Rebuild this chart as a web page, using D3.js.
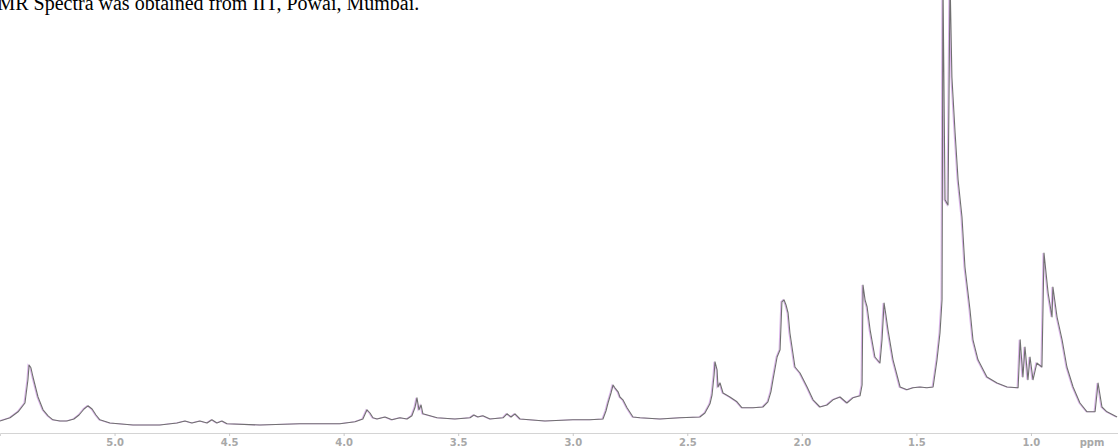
<!DOCTYPE html>
<html>
<head>
<meta charset="utf-8">
<script src="https://cdn.jsdelivr.net/npm/d3@7"></script>
<style>
  html, body { margin: 0; padding: 0; background: #fff; overflow: hidden; }
  svg { display: block; }
</style>
</head>
<body>
<div id="chart"></div>
<script>
// chemical shift (ppm) and relative intensity
const ppm = [
  5.500, 5.456, 5.421, 5.391, 5.378, 5.373, 5.365, 5.356, 5.334, 5.312,
  5.290, 5.269, 5.238, 5.208, 5.177, 5.155, 5.133, 5.116, 5.098, 5.081,
  5.064, 5.020, 4.919, 4.802, 4.727, 4.692, 4.662, 4.627, 4.596, 4.575,
  4.553, 4.531, 4.509, 4.365, 4.191, 4.016, 3.950, 3.916, 3.898, 3.885,
  3.872, 3.854, 3.819, 3.789, 3.754, 3.723, 3.702, 3.689, 3.680, 3.671,
  3.662, 3.654, 3.623, 3.592, 3.514, 3.448, 3.431, 3.414, 3.392, 3.361,
  3.304, 3.287, 3.269, 3.252, 3.230, 3.121, 2.999, 2.925, 2.868, 2.855,
  2.846, 2.833, 2.824, 2.816, 2.802, 2.794, 2.781, 2.763, 2.737, 2.706,
  2.619, 2.532, 2.445, 2.423, 2.401, 2.392, 2.383, 2.379, 2.370, 2.366,
  2.357, 2.344, 2.314, 2.283, 2.261, 2.213, 2.170, 2.148, 2.135, 2.126,
  2.108, 2.095, 2.087, 2.078, 2.069, 2.060, 2.052, 2.030, 2.008, 1.977,
  1.951, 1.921, 1.890, 1.864, 1.833, 1.803, 1.777, 1.746, 1.737, 1.733,
  1.724, 1.715, 1.702, 1.681, 1.659, 1.650, 1.641, 1.633, 1.624, 1.602,
  1.571, 1.541, 1.515, 1.484, 1.454, 1.427, 1.410, 1.397, 1.388, 1.384,
  1.375, 1.362, 1.353, 1.345, 1.340, 1.331, 1.318, 1.301, 1.288, 1.266,
  1.253, 1.231, 1.192, 1.148, 1.104, 1.056, 1.047, 1.035, 1.026, 1.013,
  1.004, 0.991, 0.974, 0.952, 0.943, 0.925, 0.908, 0.904, 0.886, 0.864,
  0.843, 0.816, 0.786, 0.755, 0.720, 0.707, 0.690, 0.668, 0.624
];
const intensity = [
  1.0, 1.8, 3.3, 5.5, 11.3, 15.0, 14.3, 12.0, 7.0, 3.8,
  2.3, 1.3, 1.0, 1.0, 1.5, 2.5, 4.0, 4.8, 4.0, 2.5,
  1.3, 0.5, 0.0, 0.0, 0.5, 1.0, 0.5, 1.0, 0.5, 1.3,
  0.5, 1.0, 0.3, 0.0, 0.3, 0.3, 0.8, 1.5, 3.8, 3.0,
  1.8, 1.5, 2.0, 1.3, 1.8, 1.5, 2.3, 4.3, 6.8, 3.8,
  5.0, 2.8, 2.3, 1.8, 1.5, 1.8, 2.5, 2.0, 2.3, 1.5,
  1.8, 2.8, 2.0, 2.8, 1.5, 1.0, 1.3, 1.3, 1.5, 3.5,
  5.5, 8.0, 10.0, 9.3, 8.3, 7.0, 6.3, 4.3, 2.0, 1.8,
  1.5, 1.8, 2.0, 3.0, 5.3, 7.5, 12.5, 15.8, 13.8, 9.5,
  10.5, 8.0, 7.0, 5.8, 4.3, 4.3, 4.5, 5.8, 8.3, 11.3,
  17.0, 18.8, 30.8, 31.3, 30.0, 28.0, 23.0, 14.5, 13.0, 9.5,
  6.3, 4.5, 5.0, 6.3, 7.0, 5.5, 6.8, 7.3, 10.0, 35.0,
  31.3, 29.5, 23.8, 17.0, 15.5, 21.3, 30.5, 27.5, 23.8, 16.3,
  9.5, 8.8, 9.3, 9.5, 9.3, 9.5, 16.3, 23.0, 31.3, 111.3,
  56.3, 55.0, 111.3, 87.0, 82.0, 73.0, 61.3, 52.0, 39.5, 28.8,
  21.3, 16.3, 12.0, 10.5, 9.5, 9.3, 21.3, 12.0, 19.5, 11.3,
  17.0, 11.3, 15.5, 14.5, 43.0, 33.0, 27.0, 34.5, 27.0, 21.3,
  14.5, 9.5, 5.5, 3.3, 3.3, 10.5, 4.5, 3.3, 2.0
];
const tickValues = [5.0, 4.5, 4.0, 3.5, 3.0, 2.5, 2.0, 1.5, 1.0];
const unitLabel = "ppm";
const caption = "NMR Spectra was obtained from IIT, Powai, Mumbai.";

const width = 1118, height = 448;

const svg = d3.select("#chart").append("svg")
  .attr("width", width)
  .attr("height", height);

// ppm axis runs right to left, as on the spectrometer printout
const x = d3.scaleLinear().domain([5.5, 0.62]).range([0, width]);
const y = d3.scaleLinear().domain([0, 100]).range([425, 25]);

const points = ppm.map((p, i) => ({ p, v: intensity[i] }));

const line = d3.line()
  .x(d => x(d.p))
  .y(d => y(d.v));

// coloured fringe from the scan
svg.append("path")
  .datum(points)
  .attr("d", line)
  .attr("transform", "translate(-1,0)")
  .attr("fill", "none")
  .attr("stroke", "#b86ad8")
  .attr("stroke-width", 1.1)
  .attr("opacity", 0.5);

svg.append("path")
  .datum(points)
  .attr("d", line)
  .attr("fill", "none")
  .attr("stroke", "#707070")
  .attr("stroke-width", 1.1)
  .attr("stroke-linejoin", "round");

// faint ppm axis
const axis = svg.append("g")
  .attr("transform", "translate(0,433)")
  .call(d3.axisBottom(x)
    .tickValues(tickValues)
    .tickFormat(d3.format(".1f"))
    .tickSize(3)
    .tickPadding(3));

axis.select(".domain").attr("stroke", "#d4d4d4");
axis.selectAll(".tick line").attr("stroke", "#c8c8c8");
axis.selectAll(".tick text")
  .attr("fill", "#a8a8a8")
  .style("font-family", "DejaVu Sans, sans-serif")
  .style("font-size", "10px")
  .style("font-weight", "bold");

svg.append("text")
  .attr("x", 1092)
  .attr("y", 446)
  .attr("text-anchor", "middle")
  .attr("fill", "#a8a8a8")
  .style("font-family", "DejaVu Sans, sans-serif")
  .style("font-size", "10px")
  .style("font-weight", "bold")
  .text(unitLabel);

// caption line cut off at the top of the scan
svg.append("text")
  .attr("x", -17)
  .attr("y", 10)
  .attr("fill", "#000")
  .style("font-family", "Liberation Serif, Times New Roman, serif")
  .style("font-size", "20px")
  .text(caption);
</script>
</body>
</html>
